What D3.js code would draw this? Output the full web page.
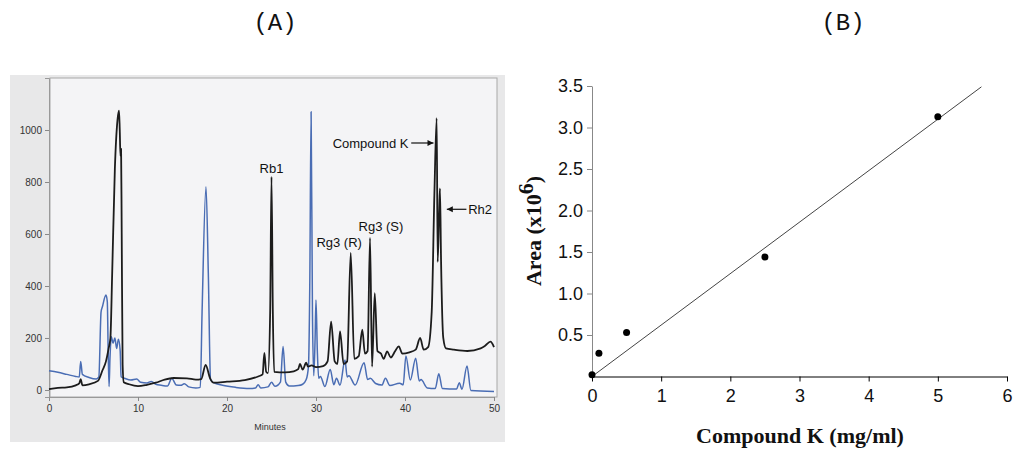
<!DOCTYPE html>
<html>
<head>
<meta charset="utf-8">
<script src="https://cdn.jsdelivr.net/npm/d3@7"></script>
<style>
  body { margin: 0; background: #fff; }
  svg { display: block; }
</style>
</head>
<body>
<div id="result"></div>
<script>
// (A) chromatogram, [minutes, mAU]
const CHROM_X_TICKS = [0, 10, 20, 30, 40, 50];
const CHROM_Y_TICKS = [0, 200, 400, 600, 800, 1000];

const BLACK_TRACE = [
  [0, 3], [1, 8], [2, 10], [3.0, 18], [3.4, 25], [3.56, 42], [3.75, 18], [4.5, 22],
  [5.5, 35], [6.0, 75], [6.4, 110], [6.7, 160], [6.9, 200], [7.1, 450], [7.4, 850],
  [7.7, 1040], [7.87, 1074], [7.95, 1000], [8.03, 900], [8.1, 927], [8.17, 600],
  [8.27, 100], [8.4, 30], [9, 22], [10, 15], [11, 20], [12, 28], [13, 40], [14, 46],
  [15.5, 45], [16.5, 40], [17.1, 42], [17.6, 96], [18.1, 45], [18.5, 28], [20, 32],
  [22, 38], [23.5, 52], [24.0, 60], [24.2, 143], [24.4, 70], [24.6, 65], [24.85, 300],
  [25.0, 820], [25.15, 300], [25.3, 70], [26.5, 68], [27.5, 72], [28.0, 80], [28.2, 100],
  [28.5, 78], [28.9, 105], [29.1, 90], [29.5, 95], [30.0, 88], [30.8, 92], [31.3, 110],
  [31.7, 263], [32.1, 110], [32.4, 100], [32.7, 225], [33.1, 100], [33.5, 110],
  [33.9, 527], [34.3, 120], [34.8, 130], [35.2, 232], [35.5, 140], [35.8, 150],
  [36.07, 585], [36.3, 90], [36.6, 372], [36.9, 150], [37.3, 140], [37.6, 120],
  [38.0, 148], [38.4, 125], [38.9, 150], [39.3, 168], [39.7, 140], [40.5, 145],
  [41.2, 155], [41.7, 200], [42.1, 155], [42.6, 165], [43.0, 300], [43.3, 750],
  [43.56, 1046], [43.67, 493], [43.85, 700], [43.93, 775], [44.05, 500], [44.3, 200],
  [44.6, 160], [45.5, 155], [47, 150], [48.5, 160], [49.0, 170], [49.6, 186], [50, 165]
];

const BLUE_TRACE = [
  [0, 74], [1, 68], [2, 60], [3.0, 52], [3.4, 50], [3.56, 110], [3.75, 60], [4.5, 48],
  [5.3, 42], [5.6, 50], [5.85, 300], [6.0, 320], [6.4, 365], [6.55, 340], [6.65, 150],
  [6.75, 13], [6.85, 120], [7.0, 205], [7.2, 180], [7.4, 200], [7.6, 160], [7.8, 195],
  [8.0, 150], [8.1, 51], [8.5, 45], [9.2, 38], [9.85, 42], [10.3, 30], [11.0, 27],
  [11.5, 33], [12.0, 22], [12.6, 18], [13.3, 15], [13.8, 45], [14.3, 19], [14.8, 18],
  [15.2, 24], [15.7, 12], [16.5, 8], [17.0, 10], [17.2, 300], [17.64, 782], [17.9, 450],
  [18.15, 40], [18.5, 28], [19.5, 18], [21, 10], [22.5, 6], [23.2, 8], [23.5, 20],
  [23.8, 8], [24.6, 12], [25.0, 30], [25.4, 14], [26.0, 30], [26.3, 167], [26.6, 30],
  [27.0, 15], [28.0, 17], [28.5, 22], [28.9, 40], [29.15, 90], [29.3, 400], [29.45, 1070],
  [29.6, 300], [29.75, 55], [29.9, 200], [30.0, 346], [30.15, 150], [30.3, 45], [30.5, 52],
  [31.0, 13], [31.6, 79], [32.0, 20], [32.3, 45], [32.7, 19], [33.26, 115], [33.5, 50],
  [33.7, 55], [34.4, 19], [35.4, 105], [35.8, 40], [36.1, 45], [36.7, 25], [37.4, 19],
  [37.8, 45], [38.3, 17], [39.4, 26], [39.8, 20], [40.1, 131], [40.6, 38], [41.2, 122],
  [41.6, 35], [41.8, 40], [42.5, 8], [43.4, 6], [43.8, 62], [44.2, 6], [45.8, 4],
  [46.1, 28], [46.4, 3], [46.97, 92], [47.4, -2], [50, -6]
];

// (B) calibration curve
const CONC = [0, 0.1, 0.5, 2.5, 5];          // mg/ml
const AREA = [0.02, 0.28, 0.53, 1.44, 3.13]; // x10^6
const FIT_X = [0, 5.63];
const FIT_Y = [0, 3.49];
const CAL_X_TICKS = [0, 1, 2, 3, 4, 5, 6];
const CAL_Y_TICKS = [0.5, 1.0, 1.5, 2.0, 2.5, 3.0, 3.5];

let svg = d3.select("#result").append("svg")
    .attr("width", 1013)
    .attr("height", 450);

function drawPanelTitles() {
    const titles = ["(A)", "(B)"];
    const cx = [275, 843];
    titles.forEach((t, i) => {
        svg.append("text")
            .attr("x", cx[i])
            .attr("y", 30)
            .attr("text-anchor", "middle")
            .attr("font-family", "Liberation Mono, monospace")
            .attr("font-size", 24)
            .attr("fill", "#111")
            .text(t);
    });
}

function drawChromatogram() {
    const x = d3.scaleLinear().domain([0, 50]).range([49, 494]);
    const y = d3.scaleLinear().domain([-27, 1200]).range([397, 78]);

    // scanned paper look
    svg.append("rect")
        .attr("x", 10).attr("y", 75)
        .attr("width", 495).attr("height", 367)
        .attr("fill", "#e8e8e9");
    svg.append("rect")
        .attr("x", 50).attr("y", 78)
        .attr("width", 447).attr("height", 319)
        .attr("fill", "#f4f4f6")
        .attr("stroke", "#a8a8a8")
        .attr("stroke-width", 1);

    const g = svg.append("g").attr("font-family", "Liberation Sans, Arial, sans-serif");

    const xAxis = g.append("g")
        .attr("transform", "translate(0,397)")
        .call(d3.axisBottom(x).tickValues(CHROM_X_TICKS).tickFormat(d3.format("d"))
            .tickSize(4).tickPadding(4));
    const yAxis = g.append("g")
        .attr("transform", "translate(49,0)")
        .call(d3.axisLeft(y).tickValues(CHROM_Y_TICKS).tickFormat(d3.format("d"))
            .tickSize(4).tickPadding(3));
    [xAxis, yAxis].forEach(a => {
        a.select(".domain").attr("stroke", "#999");
        a.selectAll(".tick line").attr("stroke", "#888");
        a.selectAll("text").attr("font-size", 10).attr("fill", "#333").attr("font-family", null);
    });

    g.append("text")
        .attr("x", 270).attr("y", 430)
        .attr("text-anchor", "middle")
        .attr("font-size", 9)
        .attr("fill", "#333")
        .text("Minutes");

    const line = d3.line()
        .x(d => x(d[0]))
        .y(d => y(d[1]))
        .curve(d3.curveMonotoneX);

    g.append("path")
        .datum(BLUE_TRACE)
        .attr("d", line)
        .attr("fill", "none")
        .attr("stroke", "#4a6db4")
        .attr("stroke-width", 1.5)
        .attr("stroke-linejoin", "round");

    g.append("path")
        .datum(BLACK_TRACE)
        .attr("d", line)
        .attr("fill", "none")
        .attr("stroke", "#1c1c1c")
        .attr("stroke-width", 1.8)
        .attr("stroke-linejoin", "round");

    // peak labels
    const lab = (tx, ty, s, anchor) => g.append("text")
        .attr("x", tx).attr("y", ty)
        .attr("text-anchor", anchor || "middle")
        .attr("font-size", 13)
        .attr("fill", "#111")
        .text(s);
    lab(x(25.0), y(835), "Rb1");
    lab(x(32.6), y(550), "Rg3 (R)");
    lab(x(37.3), y(610), "Rg3 (S)");
    lab(x(40.4), y(930), "Compound K", "end");
    lab(x(47.1), y(677), "Rh2", "start");

    const arrow = (x1, x2, yy) => {
        g.append("line")
            .attr("x1", x1).attr("x2", x2)
            .attr("y1", yy).attr("y2", yy)
            .attr("stroke", "#111").attr("stroke-width", 1.2);
        const dir = x2 > x1 ? 1 : -1;
        g.append("path")
            .attr("d", `M${x2},${yy} L${x2 - dir * 6},${yy - 3} L${x2 - dir * 6},${yy + 3} Z`)
            .attr("fill", "#111");
    };
    arrow(x(40.7), x(43.2), y(950));
    arrow(x(46.9), x(44.7), y(695));
}

function drawCalibration() {
    const x = d3.scaleLinear().domain([0, 6]).range([592, 1007]);
    const y = d3.scaleLinear().domain([0, 3.5]).range([376.5, 86]);

    const g = svg.append("g").attr("font-family", "Liberation Serif, Times New Roman, serif");

    const xAxis = g.append("g")
        .attr("transform", "translate(0,376.5)")
        .call(d3.axisBottom(x).tickValues(CAL_X_TICKS).tickFormat(d3.format("d"))
            .tickSize(5).tickPadding(8).tickSizeOuter(0));
    xAxis.select(".domain").attr("stroke", "#000");
    xAxis.selectAll(".tick line").attr("stroke", "#000");
    // last label sits right on the page edge
    xAxis.selectAll(".tick text")
        .filter(d => d === 6)
        .attr("text-anchor", "end")
        .attr("dx", 5);

    const yAxis = g.append("g")
        .attr("transform", "translate(592,0)")
        .call(d3.axisLeft(y).tickValues(CAL_Y_TICKS).tickFormat(d3.format(".1f"))
            .tickSize(5).tickPadding(4).tickSizeOuter(0));
    yAxis.select(".domain").attr("stroke", "#888");
    yAxis.selectAll(".tick line").attr("stroke", "#888");

    [xAxis, yAxis].forEach(a => {
        a.selectAll("text").attr("font-size", 18).attr("fill", "#111").attr("font-family", null);
    });

    // trend line
    g.append("line")
        .attr("x1", x(FIT_X[0])).attr("y1", y(FIT_Y[0]))
        .attr("x2", x(FIT_X[1])).attr("y2", y(FIT_Y[1]))
        .attr("stroke", "#444")
        .attr("stroke-width", 1);

    g.selectAll("circle.pt")
        .data(CONC.map((c, i) => [c, AREA[i]]))
        .enter().append("circle")
        .attr("class", "pt")
        .attr("cx", d => x(d[0]))
        .attr("cy", d => y(d[1]))
        .attr("r", 3.5)
        .attr("fill", "#000");

    g.append("text")
        .attr("x", 800).attr("y", 443)
        .attr("text-anchor", "middle")
        .attr("font-size", 22)
        .attr("font-weight", "bold")
        .attr("fill", "#111")
        .text("Compound K (mg/ml)");

    const yt = g.append("text")
        .attr("transform", "translate(541,231) rotate(-90)")
        .attr("text-anchor", "middle")
        .attr("font-size", 22)
        .attr("font-weight", "bold")
        .attr("fill", "#111");
    yt.append("tspan").text("Area (x10");
    yt.append("tspan").attr("dy", -8).text("6");
    yt.append("tspan").attr("dy", 8).text(")");
}

drawPanelTitles();
drawChromatogram();
drawCalibration();
</script>
</body>
</html>
